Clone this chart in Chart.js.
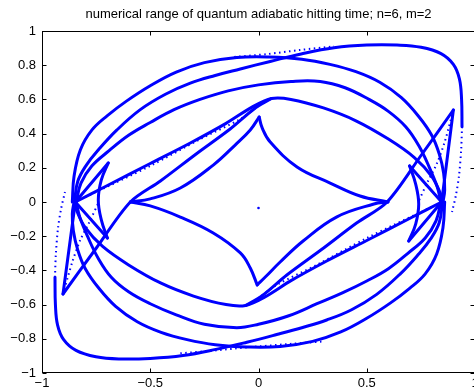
<!DOCTYPE html>
<html>
<head>
<meta charset="utf-8">
<script src="https://cdn.jsdelivr.net/npm/chart.js@4.4.0/dist/chart.umd.min.js"></script>
<style>html,body{margin:0;padding:0;overflow:hidden;background:#fff}</style>
</head>
<body>
<canvas id="c" width="476" height="392"></canvas>
<script>
const titleText = 'numerical range of quantum adiabatic hitting time; n=6, m=2';
const xTicks = [-1, -0.5, 0, 0.5, 1];
const yTicks = [-1, -0.8, -0.6, -0.4, -0.2, 0, 0.2, 0.4, 0.6, 0.8, 1];

// upper arcs leaving the left knot
const archA = [[-0.860,0],[-0.852,0.150],[-0.823,0.304],[-0.770,0.420],[-0.698,0.505],[-0.610,0.590],[-0.500,0.680],[-0.380,0.760],[-0.250,0.815],[-0.100,0.845],[0.050,0.848],[0.200,0.835],[0.330,0.805],[0.450,0.762],[0.560,0.700],[0.660,0.610],[0.740,0.500],[0.800,0.390],[0.835,0.280],[0.855,0.170],[0.860,0.070],[0.852,0]];
const archB = [[-0.850,0],[-0.835,0.120],[-0.795,0.216],[-0.740,0.304],[-0.655,0.420],[-0.546,0.540],[-0.430,0.630],[-0.315,0.695],[-0.200,0.740],[-0.084,0.778],[0.054,0.822],[0.197,0.866],[0.349,0.902],[0.500,0.918],[0.640,0.918],[0.751,0.905],[0.843,0.868],[0.900,0.805],[0.928,0.720],[0.938,0.600],[0.940,0.440]];
const archBDots = [[0.940,0.440],[0.936,0.304],[0.926,0.152],[0.912,0.041],[0.894,-0.058]];
const archC = [[-0.842,0],[-0.820,0.110],[-0.770,0.210],[-0.690,0.300],[-0.600,0.390],[-0.500,0.465],[-0.390,0.540],[-0.270,0.600],[-0.140,0.650],[0.000,0.685],[0.150,0.705],[0.285,0.705],[0.400,0.668],[0.510,0.600],[0.600,0.530],[0.680,0.440],[0.740,0.330],[0.790,0.200],[0.825,0.090],[0.843,0]];

// lower arcs leaving the right knot
const archA2 = [[0.860,0],[0.852,-0.150],[0.823,-0.304],[0.770,-0.420],[0.698,-0.505],[0.610,-0.590],[0.500,-0.680],[0.380,-0.760],[0.250,-0.815],[0.100,-0.845],[-0.050,-0.848],[-0.200,-0.835],[-0.330,-0.805],[-0.450,-0.762],[-0.560,-0.700],[-0.660,-0.610],[-0.740,-0.500],[-0.800,-0.390],[-0.835,-0.280],[-0.855,-0.170],[-0.860,-0.070],[-0.852,0]];
const archB2 = [[0.850,0],[0.835,-0.120],[0.795,-0.216],[0.740,-0.304],[0.655,-0.420],[0.546,-0.540],[0.430,-0.630],[0.315,-0.690],[0.200,-0.735],[0.084,-0.775],[-0.054,-0.820],[-0.197,-0.862],[-0.349,-0.898],[-0.500,-0.915],[-0.640,-0.918],[-0.751,-0.905],[-0.843,-0.868],[-0.900,-0.805],[-0.928,-0.720],[-0.938,-0.600],[-0.940,-0.440]];
const archB2Dots = [[-0.940,-0.440],[-0.936,-0.304],[-0.926,-0.152],[-0.912,-0.041],[-0.894,0.058]];
const archC2 = [[0.842,0],[0.820,-0.110],[0.770,-0.210],[0.690,-0.300],[0.600,-0.390],[0.500,-0.462],[0.390,-0.530],[0.270,-0.595],[0.140,-0.665],[0.000,-0.715],[-0.100,-0.735],[-0.250,-0.715],[-0.380,-0.660],[-0.500,-0.595],[-0.600,-0.525],[-0.680,-0.440],[-0.740,-0.330],[-0.790,-0.200],[-0.825,-0.090],[-0.843,0]];

const topDots = [[-0.112,0.848],[0.040,0.865],[0.192,0.889],[0.349,0.910]];
const bottomDots = [[-0.361,-0.885],[-0.200,-0.868],[-0.052,-0.850],[0.146,-0.830],[0.300,-0.815]];

// inner loops through the peak and the trough
const peakLine = [[-0.846,0],[-0.700,0.095],[-0.500,0.225],[-0.315,0.345],[-0.150,0.460],[-0.030,0.555],[0.060,0.605],[0.150,0.600],[0.300,0.550],[0.450,0.475],[0.600,0.368],[0.720,0.260],[0.800,0.150],[0.840,0.050],[0.846,0]];
const peakDots = [[-0.800,0.029],[-0.500,0.211],[-0.269,0.368],[-0.084,0.485],[0.000,0.561]];
const troughLine = [[0.846,0],[0.700,-0.095],[0.500,-0.225],[0.315,-0.345],[0.150,-0.460],[0.030,-0.555],[-0.060,-0.605],[-0.150,-0.600],[-0.300,-0.550],[-0.450,-0.475],[-0.600,-0.368],[-0.720,-0.260],[-0.800,-0.150],[-0.840,-0.050],[-0.846,0]];
const troughDots = [[0.800,-0.029],[0.500,-0.211],[0.269,-0.368],[0.084,-0.485],[0.000,-0.561]];
const cuspLineL = [[-0.903,-0.538],[-0.749,-0.269],[-0.592,0],[-0.453,0.123],[-0.288,0.281],[-0.131,0.427],[-0.015,0.550],[0.059,0.605]];
const cuspLineR = [[0.900,0.538],[0.749,0.269],[0.594,0],[0.453,-0.123],[0.288,-0.281],[0.131,-0.427],[0.015,-0.550],[-0.059,-0.605]];

// the four edges of the inner star
const starUL = [[-0.592,0],[-0.500,0.018],[-0.361,0.082],[-0.209,0.216],[-0.108,0.333],[-0.038,0.421],[0.003,0.497]];
const starUR = [[0.003,0.497],[0.017,0.433],[0.054,0.351],[0.178,0.205],[0.331,0.111],[0.469,0.035],[0.598,0]];
const starLR = [[0.598,0],[0.533,-0.012],[0.360,-0.088],[0.206,-0.228],[0.100,-0.351],[0.036,-0.433],[-0.006,-0.485]];
const starLL = [[-0.006,-0.485],[-0.038,-0.386],[-0.084,-0.298],[-0.209,-0.181],[-0.361,-0.088],[-0.500,-0.023],[-0.592,0]];

// swallowtails at both knots
const tailL = [[-0.694,0.228],[-0.726,0.129],[-0.740,0.012],[-0.726,-0.105],[-0.698,-0.211]];
const tailR = [[0.698,0.211],[0.726,0.105],[0.740,-0.012],[0.726,-0.129],[0.694,-0.228]];
const spokeL = [[-0.694,0.228],[-0.846,0],[-0.698,-0.211]];
const spokeR = [[0.698,0.211],[0.846,0],[0.694,-0.228]];
const spokeFarL = [[-0.903,-0.538],[-0.846,0]];
const spokeFarR = [[0.900,0.538],[0.846,0]];
const tailDotsL = [[-0.903,-0.538],[-0.860,-0.351],[-0.823,-0.222],[-0.781,-0.117],[-0.740,-0.006]];
const tailDotsR = [[0.900,0.538],[0.860,0.351],[0.823,0.222],[0.781,0.117],[0.740,0.006]];
const centerDot = [[0,-0.035]];

const blue = '#0000ff';
const font = { family: 'Liberation Sans, Arial, Helvetica, sans-serif', size: 13 };

function pts(a) { return a.map(p => ({ x: p[0], y: p[1] })); }
function solid(a, t) {
  return { data: pts(a), showLine: true, borderColor: blue, borderWidth: 3, pointRadius: 0,
    tension: t === undefined ? 0.4 : t, borderCapStyle: 'round', borderJoinStyle: 'round' };
}
function dotted(a) {
  return { data: pts(a), showLine: true, borderColor: blue, borderWidth: 2, pointRadius: 0,
    tension: 0.3, borderDash: [1.5, 3.5] };
}

const datasets = [
  solid(archA), solid(archB), dotted(archBDots), solid(archC),
  solid(archA2), solid(archB2), dotted(archB2Dots), solid(archC2),
  dotted(topDots), dotted(bottomDots),
  solid(peakLine, 0.3), dotted(peakDots), solid(troughLine, 0.3), dotted(troughDots),
  solid(cuspLineL, 0.3), solid(cuspLineR, 0.3),
  solid(starUL), solid(starUR), solid(starLR), solid(starLL),
  solid(tailL), solid(tailR), solid(spokeL, 0), solid(spokeR, 0),
  solid(spokeFarL, 0), solid(spokeFarR, 0), dotted(tailDotsL), dotted(tailDotsR),
  { data: pts(centerDot), showLine: false, pointRadius: 1.3, pointBackgroundColor: blue, pointBorderWidth: 0 }
];

function fmt(v) { return v < 0 ? '\u2212' + Math.abs(v) : String(v); }

// box round the axes with inward tick marks on all four sides
const boxTicks = {
  id: 'boxTicks',
  afterDraw(chart) {
    const { ctx, chartArea: a, scales: { x, y } } = chart;
    ctx.save();
    ctx.strokeStyle = '#000';
    ctx.lineWidth = 1;
    const l = Math.round(a.left) + 0.5, r = Math.round(a.right) - 0.5;
    const t = Math.round(a.top) + 0.5, b = Math.round(a.bottom) - 0.5;
    ctx.strokeRect(l, t, r - l, b - t);
    ctx.beginPath();
    xTicks.forEach(v => {
      const px = Math.round(x.getPixelForValue(v)) + 0.5;
      ctx.moveTo(px, b); ctx.lineTo(px, b - 4);
      ctx.moveTo(px, t); ctx.lineTo(px, t + 4);
    });
    yTicks.forEach(v => {
      const py = Math.round(y.getPixelForValue(v)) + 0.5;
      ctx.moveTo(l, py); ctx.lineTo(l + 4, py);
      ctx.moveTo(r, py); ctx.lineTo(r - 4, py);
    });
    ctx.stroke();
    ctx.restore();
  }
};

new Chart(document.getElementById('c'), {
  type: 'scatter',
  data: { datasets },
  options: {
    responsive: false,
    animation: false,
    events: [],
    layout: { autoPadding: false, padding: { left: 0, right: 1, top: 0, bottom: 0 } },
    plugins: {
      legend: { display: false },
      tooltip: { enabled: false },
      title: { display: true, text: titleText, color: '#000', fullSize: false,
        font: { family: font.family, size: 13, weight: 'normal' }, padding: { top: 7, bottom: 8.4 } }
    },
    scales: {
      x: {
        type: 'linear', min: -1, max: 1,
        afterBuildTicks: s => { s.ticks = xTicks.map(v => ({ value: v })); },
        afterFit: s => { s.height = 19; s.paddingLeft = 0; s.paddingRight = 0; },
        ticks: { callback: fmt, color: '#000', font, padding: 3, maxRotation: 0, autoSkip: false },
        grid: { display: false, drawTicks: false },
        border: { display: false }
      },
      y: {
        type: 'linear', min: -1, max: 1,
        afterBuildTicks: s => { s.ticks = yTicks.map(v => ({ value: v })); },
        afterFit: s => { s.width = 42; s.paddingTop = 0; s.paddingBottom = 0; },
        ticks: { callback: fmt, color: '#000', font, padding: 6, autoSkip: false },
        grid: { display: false, drawTicks: false },
        border: { display: false }
      }
    }
  },
  plugins: [boxTicks]
});
</script>
</body>
</html>
